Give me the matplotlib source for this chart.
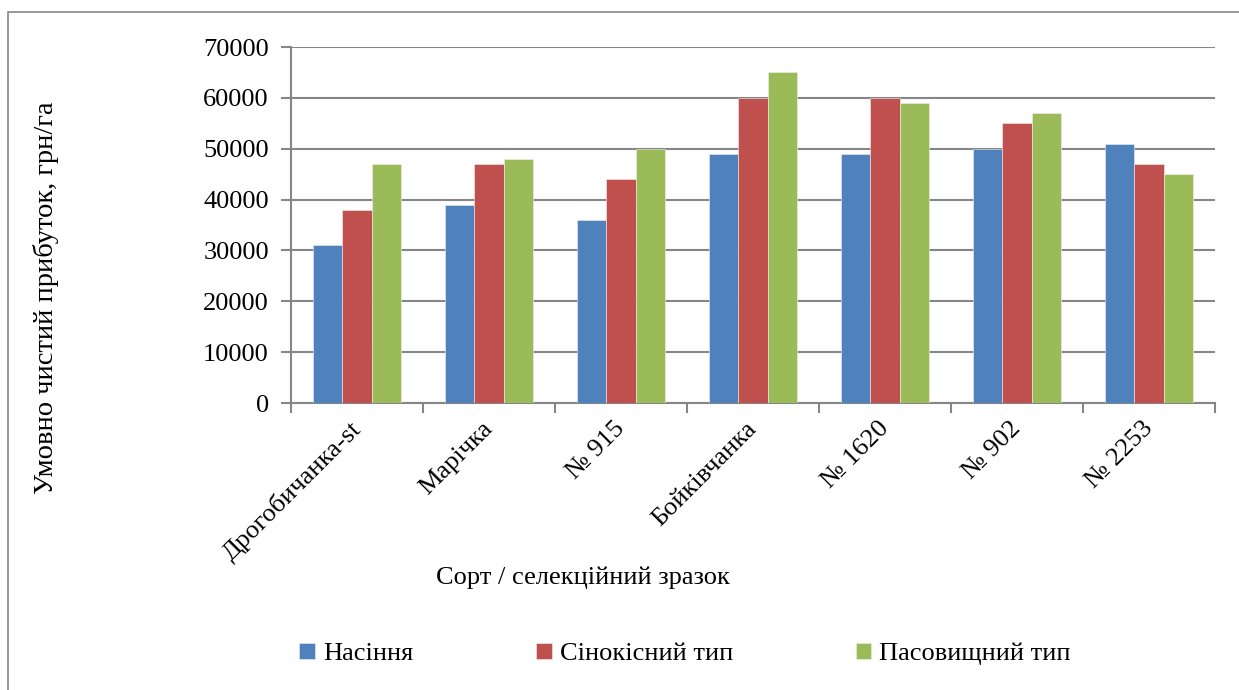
import numpy as np
import matplotlib.pyplot as plt
from matplotlib.patches import Rectangle

# Дані: умовно чистий прибуток, грн/га
sorts = ["Дрогобичанка-st", "Марічка", "№ 915", "Бойківчанка", "№ 1620", "№ 902", "№ 2253"]
seeds = [31000, 39000, 36000, 49000, 49000, 50000, 51000]
hay = [38000, 47000, 44000, 60000, 60000, 55000, 47000]
pasture = [47000, 48000, 50000, 65000, 59000, 57000, 45000]
series_names = ["Насіння", "Сінокісний тип", "Пасовищний тип"]
colors = ["#4F81BD", "#C0504D", "#9BBB59"]

plt.rcParams['font.family'] = ['Liberation Serif', 'DejaVu Serif']
fs = 19

fig = plt.figure(figsize=(12.39, 6.9), dpi=100)
ax = fig.add_axes([0.2349, 0.4159, 0.7458, 0.5159])

# рамка навколо діаграми
fig.patches.append(Rectangle((8 / 1239, -0.1), 1.2, 1.1 - 12 / 690, transform=fig.transFigure,
                             fill=False, edgecolor='#868686', linewidth=1.2))

x = np.arange(len(sorts))
w = 0.222
for i, (vals, name, c) in enumerate(zip([seeds, hay, pasture], series_names, colors)):
    ax.bar(x + (i - 1) * w, vals, width=w, color=c, label=name,
           edgecolor='#f0f0f0', linewidth=0.4, zorder=3)

ax.set_xlim(-0.5, len(sorts) - 0.5)
ax.set_ylim(0, 70000)
ax.set_yticks(np.arange(0, 70001, 10000))
ax.yaxis.grid(True, color='#868686', linewidth=1.5, zorder=0)

# поділки між категоріями, підписи по центру
ax.set_xticks(np.arange(-0.5, len(sorts)), labels=[''] * (len(sorts) + 1))
ax.set_xticks(x, labels=sorts, minor=True)
ax.tick_params(axis='x', which='major', length=7, width=1.5, color='#868686', direction='out')
ax.tick_params(axis='x', which='minor', length=0, pad=16)
for lbl in ax.get_xticklabels(minor=True):
    lbl.set_rotation(45)
    lbl.set_ha('right')
    lbl.set_va('center')
    lbl.set_rotation_mode('anchor')
    lbl.set_fontsize(fs)
ax.tick_params(axis='y', length=7, width=1.5, color='#868686', labelsize=fs, pad=9)

for s in ['top', 'right']:
    ax.spines[s].set_visible(False)
for s in ['left', 'bottom']:
    ax.spines[s].set_color('#868686')
    ax.spines[s].set_linewidth(1.5)

fig.text(46 / 1239, 1 - 298 / 690, "Умовно чистий прибуток, грн/га", rotation=90,
         ha='center', va='center', fontsize=20.5)
fig.text(583 / 1239, 1 - 578 / 690, "Сорт / селекційний зразок",
         ha='center', va='center', fontsize=fs)

handles, labels = ax.get_legend_handles_labels()
fig.legend(handles, labels, loc='center', bbox_to_anchor=(685 / 1239, 1 - 654 / 690), ncol=3,
           frameon=False, fontsize=fs, handlelength=0.6, handleheight=0.6,
           handletextpad=0.3, columnspacing=4.65)

fig.savefig("out.png", dpi=100)
